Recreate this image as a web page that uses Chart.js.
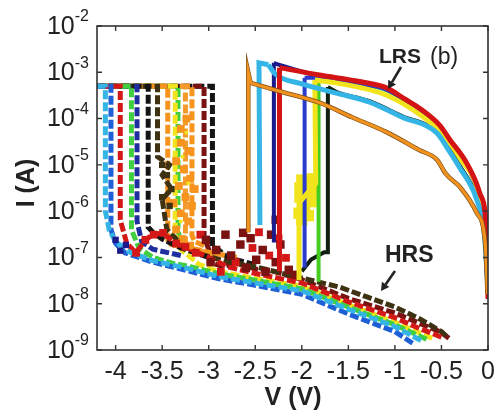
<!DOCTYPE html>
<html>
<head>
<title>I-V switching curves</title>
<style>
  body { margin: 0; background: #fff; }
  #wrap { width: 496px; height: 417px; }
</style>
<script src="https://cdn.jsdelivr.net/npm/chart.js"></script>
</head>
<body>
<div id="wrap"><canvas id="iv" width="496" height="417"></canvas></div>
<script>
// axis ticks
const xTicks = [-4, -3.5, -3, -2.5, -2, -1.5, -1, -0.5, 0];
const yTickExps = [-9, -8, -7, -6, -5, -4, -3, -2];

// dashed sweeps: HRS branch (right to left), set jump, compliance (5e-4 A)
const cycBlack2 = [[-2.5,7e-8],[-2.8,1e-7],[-2.9,1.5e-7],[-2.96,1.7e-7],[-2.96,5e-4],[-4.2,5e-4]];
const cycMaroon = [[-0.42,1.8e-9],[-0.5,2.4e-9],[-1.0,6.3e-9],[-1.5,1.3e-8],[-2.0,3.3e-8],[-2.3,5e-8],[-2.5,5.6e-8],[-2.7,7.6e-8],[-2.85,6.3e-8],[-2.96,7.6e-8],[-3.0,1.5e-7],[-3.05,2.8e-7],[-3.05,5e-4],[-4.2,5e-4]];
const cycOrange3 = [[-3.05,1.8e-7],[-3.15,2.2e-7],[-3.18,3e-7],[-3.18,5e-4],[-4.2,5e-4]];
const cycOrange2 = [[-2.9,1.1e-7],[-3.1,1.4e-7],[-3.25,1.6e-7],[-3.25,5e-4],[-4.2,5e-4]];
const cycGreen2 = [[-3.1,1.2e-7],[-3.3,2e-7],[-3.33,4e-7],[-3.33,5e-4],[-4.2,5e-4]];
const cycYellow = [[-0.6,1.8e-9],[-1.0,4e-9],[-1.5,9.5e-9],[-2.0,2.4e-8],[-2.5,3.5e-8],[-2.9,5e-8],[-3.1,7e-8],[-3.3,1.5e-7],[-3.36,3e-7],[-3.36,5e-4],[-4.2,5e-4]];
const cycOrange = [[-2.7,1e-7],[-3.0,1.3e-7],[-3.2,1.6e-7],[-3.35,1.8e-7],[-3.44,2e-7],[-3.44,5e-4],[-4.2,5e-4]];
const cycOlive = [[-0.45,2e-9],[-0.5,2.5e-9],[-0.75,4.9e-9],[-1.0,8.5e-9],[-1.3,1.4e-8],[-1.6,2.3e-8],[-2.1,4e-8],[-2.5,6.3e-8],[-2.8,8e-8],[-3.1,1.2e-7],[-3.3,2e-7],[-3.45,4e-7],[-3.5,1.8e-6],[-3.4,3e-6],[-3.5,6e-6],[-3.42,1e-5],[-3.55,1.5e-5],[-3.55,5e-4],[-4.2,5e-4]];
const cycBlack = [[-3.0,1e-7],[-3.3,1.6e-7],[-3.5,2.5e-7],[-3.6,3.5e-7],[-3.65,4.5e-7],[-3.65,5e-4],[-4.2,5e-4]];
const cycNavy = [[-3.3,1.1e-7],[-3.6,1.5e-7],[-3.72,2.2e-7],[-3.77,6e-7],[-3.77,5e-4],[-4.2,5e-4]];
const cycGreen = [[-0.66,1.7e-9],[-1.0,3.5e-9],[-1.5,8.5e-9],[-2.0,2.1e-8],[-2.5,3.2e-8],[-2.9,4.5e-8],[-3.2,6.3e-8],[-3.4,7.6e-8],[-3.6,1e-7],[-3.75,1.6e-7],[-3.83,4e-7],[-3.83,5e-4],[-4.2,5e-4]];
const cycRed = [[-0.5,1.9e-9],[-0.75,3e-9],[-1.0,5e-9],[-1.5,1.1e-8],[-2.0,2.8e-8],[-2.5,4.5e-8],[-2.8,6.3e-8],[-3.0,1e-7],[-3.2,1.5e-7],[-3.35,2e-7],[-3.5,3.4e-7],[-3.6,3.1e-7],[-3.68,2.4e-7],[-3.78,1.26e-7],[-3.88,2e-7],[-3.95,6.5e-7],[-3.95,5e-4],[-4.2,5e-4]];
const cycBlue = [[-0.81,1.4e-9],[-1.0,2.5e-9],[-1.5,6e-9],[-2.0,1.6e-8],[-2.5,2.5e-8],[-2.9,3.5e-8],[-3.2,5e-8],[-3.6,7.9e-8],[-3.9,1.26e-7],[-4.0,2e-7],[-4.05,4e-7],[-4.05,5e-4],[-4.2,5e-4]];
const cycCyan = [[-0.72,1.6e-9],[-1.0,3.2e-9],[-1.5,7.6e-9],[-2.0,1.9e-8],[-2.5,2.8e-8],[-2.9,3.9e-8],[-3.2,5.6e-8],[-3.6,8.5e-8],[-3.85,1.3e-7],[-4.0,2.2e-7],[-4.07,4e-7],[-4.11,1e-6],[-4.11,5e-4],[-4.2,5e-4]];

// scattered noisy readings
const orangeNoise = [[-3.3,3e-5],[-3.22,2e-5],[-3.35,1.2e-5],[-3.27,8e-6],[-3.2,5e-6],[-3.32,3.5e-6],[-3.25,2e-6],[-3.18,1.3e-6],[-3.3,9e-7],[-3.22,6e-7],[-3.35,4e-7],[-3.28,2.5e-7],[-3.2,1.8e-7],[-3.15,3e-6],[-3.38,1.5e-6],[-3.3,6e-5],[-3.24,1e-4]];
const yellowSpecks = [[-3.28,1.5e-5],[-3.22,4e-6],[-3.3,6e-7],[-3.24,5e-5]];
const oliveNoise = [[-3.5,1e-5],[-3.45,6e-6],[-3.4,3e-6],[-3.5,2e-6],[-3.42,1.3e-6]];
const redNoise = [[-2.53,1.6e-7],[-2.35,1.1e-7],[-2.17,9.8e-8],[-2.71,7.9e-8],[-2.46,3.5e-7],[-2.25,2.6e-7],[-2.87,4.9e-8],[-3.09,3.1e-7],[-3.14,1.26e-7],[-3.25,1.7e-7],[-3.35,2e-7],[-3.49,3.4e-7],[-3.59,3.1e-7],[-3.68,2.4e-7],[-3.78,1.26e-7]];
const maroonNoise = [[-3.03,2.4e-7],[-2.92,1.45e-7],[-2.82,3.1e-7],[-2.76,1.1e-7],[-2.66,1.9e-7],[-2.55,2.6e-7],[-2.49,8.9e-8],[-2.42,1.45e-7],[-2.33,3.1e-7],[-2.28,7.9e-8],[-2.23,1.9e-7],[-2.14,5.4e-8],[-2.06,4.2e-8],[-2.98,7.9e-8],[-2.6,5.9e-8],[-2.39,4.9e-8],[-2.63,3.4e-7],[-2.28,6.5e-7]];
const navyNoise = [[-3.89,1.86e-7],[-4.0,2.4e-7],[-3.95,1.4e-7]];
const yellowBlob = [[-2.0,4.7e-6],[-1.92,4e-6],[-1.87,3e-6],[-1.95,2.5e-6],[-2.02,2e-6],[-1.9,1.6e-6],[-1.97,1.2e-6],[-2.03,9e-7],[-1.93,8e-7],[-1.88,5e-6],[-2.0,6.5e-7],[-1.96,3.5e-6],[-1.9,2.2e-6],[-2.02,3.2e-6],[-1.95,1.7e-6],[-1.99,9e-7]];

// solid sweeps: reset drop first, then LRS branch towards 0 V
const lrsBlack = [[-2.0,5e-8],[-1.9,9e-8],[-1.76,1.3e-7],[-1.72,1.3e-7],[-1.72,4.8e-4],[-1.63,3.8e-4],[-1.28,2.4e-4],[-0.92,1.12e-4],[-0.55,5.1e-5],[-0.31,1e-5],[-0.12,1.9e-6],[-0.04,3.7e-7],[0,3e-8]];
const lrsGreen = [[-1.82,3e-8],[-1.82,6.8e-4],[-1.38,5.5e-4],[-1.09,4.1e-4],[-0.74,1.5e-4],[-0.52,6.5e-5],[-0.41,3.1e-5],[-0.23,1e-5],[-0.09,2.2e-6],[-0.02,4e-7],[0,2e-8]];
const lrsNavy = [[-2.3,2.1e-7],[-2.3,1.6e-3],[-2.22,1.4e-3],[-1.81,8.3e-4],[-1.38,6e-4],[-1.09,4.4e-4],[-0.74,1.6e-4],[-0.52,6.9e-5],[-0.41,3.3e-5],[-0.23,1.05e-5],[-0.09,2.4e-6],[-0.02,4.4e-7],[0,1.6e-8]];
const lrsBlue = [[-1.97,6e-8],[-1.97,7.6e-4],[-1.81,7.6e-4],[-1.38,5.6e-4],[-1.09,4.2e-4],[-0.74,1.5e-4],[-0.52,6.6e-5],[-0.41,3.2e-5],[-0.23,1e-5],[-0.09,2.2e-6],[-0.02,4e-7],[0,2e-8]];
const lrsCyan = [[-2.45,5e-7],[-2.46,1.6e-3],[-2.36,1.45e-3],[-2.28,9e-4],[-2.0,5.6e-4],[-1.63,3.55e-4],[-1.28,2.3e-4],[-0.92,1.07e-4],[-0.55,4.9e-5],[-0.43,2.2e-5],[-0.31,9.1e-6],[-0.12,1.74e-6],[-0.04,3.4e-7],[-0.005,3e-8]];
const lrsYellow = [[-2.03,3.2e-8],[-2.03,1.5e-6],[-1.85,4e-6],[-1.86,6.8e-4],[-1.63,5.9e-4],[-1.09,3.2e-4],[-0.74,1.26e-4],[-0.5,5e-5],[-0.3,1.4e-5],[-0.1,2.5e-6],[-0.02,3.2e-7],[0,3e-8]];
const lrsRed = [[-2.24,5e-8],[-2.24,1.26e-3],[-1.81,8.7e-4],[-1.38,6.3e-4],[-1.09,4.6e-4],[-0.9,2.7e-4],[-0.74,1.7e-4],[-0.52,7.2e-5],[-0.41,3.5e-5],[-0.23,1.1e-5],[-0.09,2.5e-6],[-0.02,4.6e-7],[-0.01,1.26e-7],[0,1.26e-8]];
const lrsOrange = [[-2.575,3.5e-7],[-2.575,1.0e-3],[-2.55,5.9e-4],[-2.2,3.7e-4],[-1.81,2.2e-4],[-1.46,1.07e-4],[-1.09,5.1e-5],[-0.74,2.1e-5],[-0.55,1.3e-5],[-0.45,6.3e-6],[-0.3,3.3e-6],[-0.12,9.1e-7],[-0.03,2.0e-7],[-0.005,1.6e-8]];

const DASH = [9, 3];
function toXY(arr) { return arr.map(p => ({ x: p[0], y: p[1] })); }
function line(arr, color, width, dash, smooth) {
  return { data: toXY(arr), showLine: true, borderColor: color, borderWidth: width,
           borderDash: dash || [], pointRadius: 0, fill: false, tension: smooth ? 0.4 : 0,
           cubicInterpolationMode: smooth ? 'monotone' : 'default' };
}
function dots(arr, color, r) {
  return { data: toXY(arr), showLine: false, pointStyle: 'rect', pointRadius: r,
           backgroundColor: color, borderWidth: 0 };
}
// straight reset drop up to point k, smooth LRS branch from k on
function lrs(arr, k, color, width) {
  return [line(arr.slice(0, k + 1), color, width), line(arr.slice(k), color, width, null, true)];
}

// bottom to top
const drawList = [
  line(cycBlack2, '#161616', 5, DASH),
  line(cycMaroon, '#7a1212', 5, DASH),
  line(cycOrange3, '#f7941d', 5, DASH),
  line(cycOrange2, '#f39a2a', 5, DASH),
  line(cycGreen2, '#3fcf3f', 5, DASH),
  line(cycYellow, '#f2e41c', 5, DASH),
  line(cycOrange, '#f7941d', 5, DASH),
  line(cycOlive, '#3e3212', 5, DASH),
  line(cycBlack, '#141414', 5, DASH),
  line(cycNavy, '#1f2f9f', 5, DASH),
  line(cycGreen, '#3fcf3f', 5, DASH),
  line(cycRed, '#d41818', 5, DASH),
  line(cycBlue, '#1f5fd6', 5, DASH),
  line(cycCyan, '#35b4e6', 5, DASH),
  dots(orangeNoise, '#f7941d', 5.5),
  dots(oliveNoise, '#3e3212', 4.5),
  dots(yellowSpecks, '#f2e41c', 2.5),
  dots(navyNoise, '#1a1a8c', 4.5),
  dots(redNoise, '#d41818', 5.5),
  dots(maroonNoise, '#7a1212', 6),
  dots(yellowBlob, '#f2e41c', 8),
  ...lrs(lrsBlack, 4, '#102010', 4),
  ...lrs(lrsGreen, 1, '#44cc22', 4),
  ...lrs(lrsNavy, 1, '#1a1a8c', 4),
  ...lrs(lrsBlue, 1, '#2a3ccc', 4),
  ...lrs(lrsYellow, 3, '#f2e41c', 5),
  ...lrs(lrsCyan, 2, '#35b4e6', 5),
  ...lrs(lrsRed, 1, '#d41414', 5),
  ...lrs(lrsOrange, 2, '#7a4c16', 4.5),
  ...lrs(lrsOrange, 2, '#f2921e', 3.2)
];
const datasets = drawList.map((d, i) => Object.assign(d, { order: drawList.length - i }));

const FONT = '"Liberation Sans", Arial, sans-serif';
const INK = '#222';

const framePlugin = {
  id: 'frame',
  afterDraw(chart) {
    const { ctx, chartArea: a, scales } = chart;
    const x = scales.x, y = scales.y;
    ctx.save();
    ctx.strokeStyle = '#333';
    ctx.lineWidth = 1.6;
    ctx.strokeRect(a.left, a.top, a.right - a.left, a.bottom - a.top);
    ctx.lineWidth = 1.4;
    ctx.beginPath();
    xTicks.forEach(v => {
      const px = x.getPixelForValue(v);
      ctx.moveTo(px, a.bottom); ctx.lineTo(px, a.bottom - 5);
      ctx.moveTo(px, a.top); ctx.lineTo(px, a.top + 5);
    });
    yTickExps.forEach(e => {
      const py = y.getPixelForValue(Math.pow(10, e));
      ctx.moveTo(a.left, py); ctx.lineTo(a.left + 5, py);
      ctx.moveTo(a.right, py); ctx.lineTo(a.right - 5, py);
    });
    ctx.stroke();

    ctx.fillStyle = INK;
    ctx.textBaseline = 'middle';
    // x tick labels
    ctx.font = '25px ' + FONT;
    ctx.textAlign = 'center';
    xTicks.forEach(v => ctx.fillText(String(v), x.getPixelForValue(v), a.bottom + 22));
    // y tick labels 10^n
    yTickExps.forEach(e => {
      const py = y.getPixelForValue(Math.pow(10, e));
      const sup = String(e);
      ctx.font = '16px ' + FONT;
      const ws = ctx.measureText(sup).width;
      ctx.textAlign = 'left';
      ctx.fillText(sup, 89 - ws, py - 9);
      ctx.font = '25px ' + FONT;
      ctx.textAlign = 'right';
      ctx.fillText('10', 89 - ws, py + 1);
    });
    // axis titles
    ctx.font = 'bold 25px ' + FONT;
    ctx.textAlign = 'center';
    ctx.fillText('V (V)', 293, 398);
    ctx.save();
    ctx.translate(27, 183);
    ctx.rotate(-Math.PI / 2);
    ctx.fillText('I (A)', 0, 0);
    ctx.restore();
    // annotations
    ctx.textAlign = 'left';
    ctx.font = 'bold 21px ' + FONT;
    ctx.fillText('LRS', 379, 57);
    ctx.font = '23px ' + FONT;
    ctx.fillText('(b)', 430, 58);
    ctx.font = 'bold 23px ' + FONT;
    ctx.fillText('HRS', 385, 256);
    arrow(ctx, 401, 67, 388, 89);
    arrow(ctx, 395, 271, 381, 291);
    ctx.restore();
  }
};

function arrow(ctx, x1, y1, x2, y2) {
  const ang = Math.atan2(y2 - y1, x2 - x1);
  const hl = 8, hw = 4.5;
  const bx = x2 - hl * Math.cos(ang), by = y2 - hl * Math.sin(ang);
  ctx.strokeStyle = INK;
  ctx.lineWidth = 2.6;
  ctx.beginPath();
  ctx.moveTo(x1, y1); ctx.lineTo(bx, by);
  ctx.stroke();
  ctx.beginPath();
  ctx.moveTo(x2, y2);
  ctx.lineTo(bx + hw * Math.sin(ang), by - hw * Math.cos(ang));
  ctx.lineTo(bx - hw * Math.sin(ang), by + hw * Math.cos(ang));
  ctx.closePath();
  ctx.fillStyle = INK;
  ctx.fill();
}

new Chart(document.getElementById('iv'), {
  type: 'scatter',
  data: { datasets: datasets },
  options: {
    responsive: false,
    animation: false,
    events: [],
    layout: { padding: { left: 97, top: 26, right: 7, bottom: 67 } },
    plugins: { legend: { display: false }, tooltip: { enabled: false } },
    scales: {
      x: { type: 'linear', min: -4.2, max: 0, display: false },
      y: { type: 'logarithmic', min: 1e-9, max: 1e-2, display: false }
    }
  },
  plugins: [framePlugin]
});
</script>
</body>
</html>
